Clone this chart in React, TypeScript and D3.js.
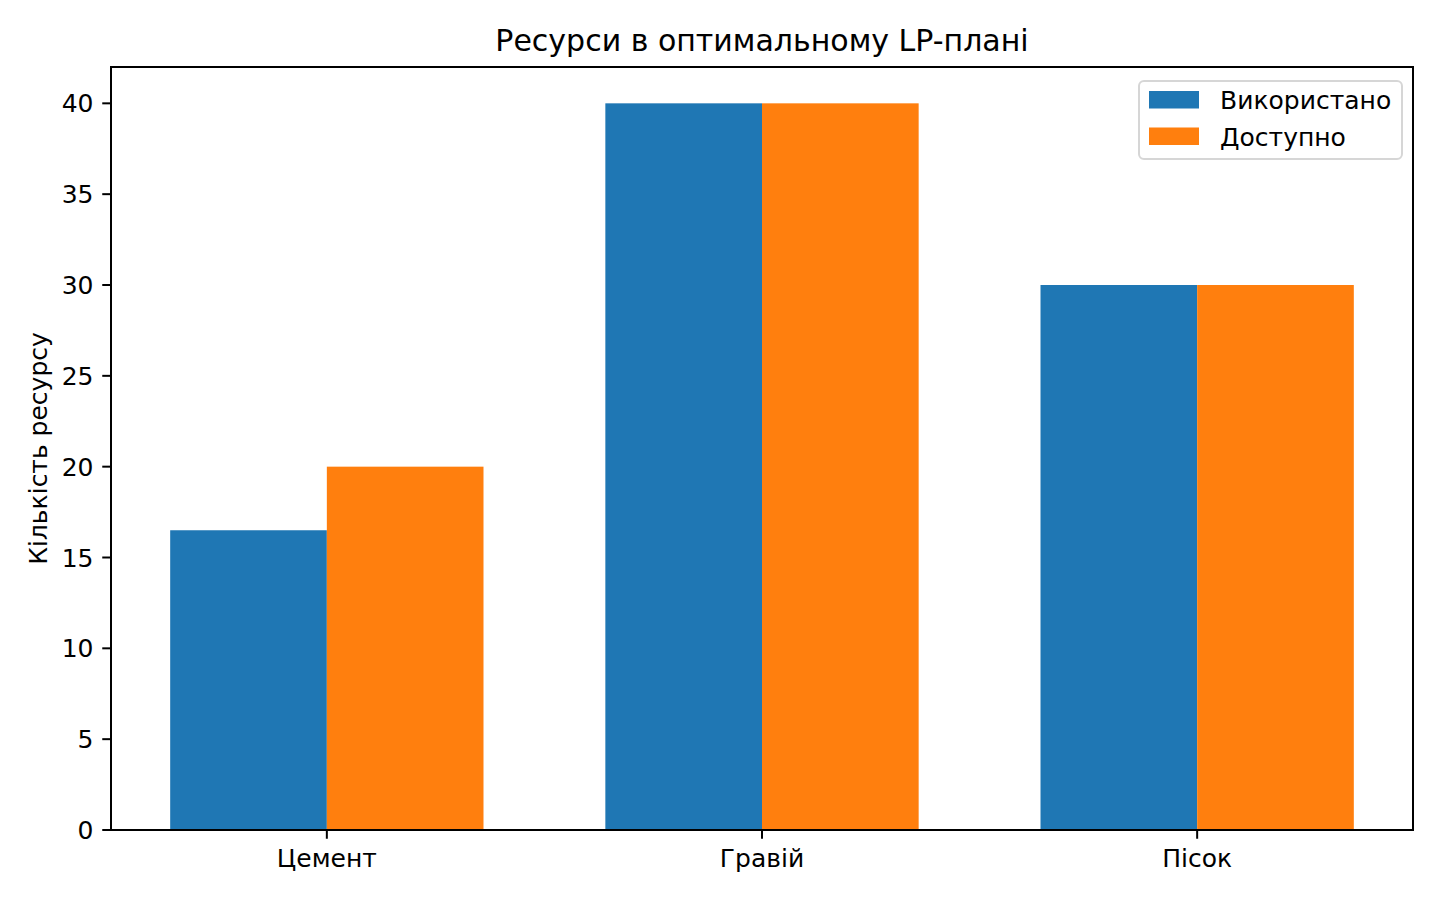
import React from "react";
import * as d3 from "d3";

const categories = ["Цемент", "Гравій", "Пісок"];
const usedValues = [16.5, 40, 30];
const availableValues = [20, 40, 30];
const seriesNames = ["Використано", "Доступно"];
const yTicks = [0, 5, 10, 15, 20, 25, 30, 35, 40];
const titleText = "Ресурси в оптимальному LP-плані";
const yLabelText = "Кількість ресурсу";

const W = 1440;
const H = 900;
const left = 111;
const right = 1413;
const top = 67;
const bottom = 830;
const barW = 0.36;
const colors = ["#1f77b4", "#ff7f0e"];
const font = "DejaVu Sans, sans-serif";

export default function App() {
  const n = categories.length;
  const dMin = -barW;
  const dMax = n - 1 + barW;
  const m = (dMax - dMin) * 0.05;
  const x = d3.scaleLinear().domain([dMin - m, dMax + m]).range([left, right]);
  const yMax = d3.max([...usedValues, ...availableValues]) as number;
  const y = d3.scaleLinear().domain([0, yMax * 1.05]).range([bottom, top]);
  const series = [usedValues, availableValues];

  return (
    <svg width={W} height={H} style={{ position: "absolute", left: 0, top: 0, background: "#fff" }} fontFamily={font}>
      <rect x={0} y={0} width={W} height={H} fill="#fff" />
      {series.map((vals, si) =>
        vals.map((v, i) => {
          const x0 = si === 0 ? x(i - barW) : x(i);
          const x1 = si === 0 ? x(i) : x(i + barW);
          return (
            <rect key={`${si}-${i}`} x={x0} y={y(v)} width={x1 - x0} height={y(0) - y(v)} fill={colors[si]} />
          );
        })
      )}
      {/* y ticks */}
      {yTicks.map((t) => (
        <g key={t}>
          <line x1={left - 8.75} x2={left} y1={y(t)} y2={y(t)} stroke="#000" strokeWidth={2} />
          <text x={left - 17.5} y={y(t) + 9.1} fontSize={25} textAnchor="end" fill="#000">
            {t}
          </text>
        </g>
      ))}
      {/* x ticks */}
      {categories.map((c, i) => (
        <g key={c}>
          <line x1={x(i)} x2={x(i)} y1={bottom} y2={bottom + 8.75} stroke="#000" strokeWidth={2} />
          <text x={x(i)} y={867} fontSize={25} textAnchor="middle" fill="#000">
            {c}
          </text>
        </g>
      ))}
      {/* spines */}
      <rect x={left} y={top} width={right - left} height={bottom - top} fill="none" stroke="#000" strokeWidth={2} />
      {/* title */}
      <text x={(left + right) / 2} y={51} fontSize={30} textAnchor="middle" fill="#000">
        {titleText}
      </text>
      {/* y label */}
      <text
        transform={`translate(46.5, ${(top + bottom) / 2}) rotate(-90)`}
        fontSize={25}
        textAnchor="middle"
        fill="#000"
      >
        {yLabelText}
      </text>
      {/* legend */}
      <g>
        <rect x={1139} y={81} width={263} height={78} rx={5} ry={5} fill="#fff" fillOpacity={0.8} stroke="#d6d6d6" strokeWidth={2} />
        {seriesNames.map((s, i) => (
          <g key={s}>
            <rect x={1149} y={91 + i * 36.5} width={50} height={17.5} fill={colors[i]} />
            <text x={1220} y={109 + i * 36.5} fontSize={25} fill="#000">
              {s}
            </text>
          </g>
        ))}
      </g>
    </svg>
  );
}
